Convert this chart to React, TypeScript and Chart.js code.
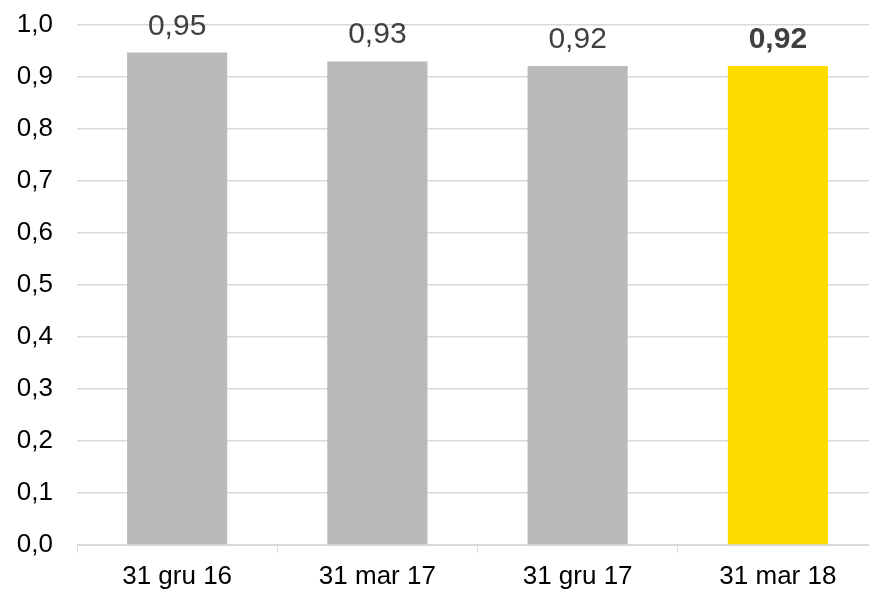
import React, { useEffect, useRef } from "react";
import { Chart, registerables } from "chart.js";

Chart.register(...registerables);

const categories = ["31 gru 16", "31 mar 17", "31 gru 17", "31 mar 18"];
const values = [0.947, 0.93, 0.921, 0.921];
const barColors = ["#BABABA", "#BABABA", "#BABABA", "#FFDC00"];
const boldLabel = [false, false, false, true];
const yTicks = [0, 0.1, 0.2, 0.3, 0.4, 0.5, 0.6, 0.7, 0.8, 0.9, 1.0];

const FONT = "'Liberation Sans', Arial, sans-serif";

const fmt = (v: number, d: number) => v.toFixed(d).replace(".", ",");

const labelPlugin = {
  id: "barLabels",
  afterDatasetsDraw(chart: any) {
    const ctx = chart.ctx;
    const meta = chart.getDatasetMeta(0);
    ctx.save();
    ctx.textAlign = "center";
    ctx.textBaseline = "alphabetic";
    meta.data.forEach((bar: any, i: number) => {
      ctx.font = `${boldLabel[i] ? "bold " : ""}30px ${FONT}`;
      ctx.fillStyle = "#404040";
      ctx.fillText(fmt(values[i], 2), bar.x, bar.y - 18);
    });
    ctx.restore();
  },
};

export default function App() {
  const ref = useRef<HTMLCanvasElement>(null);
  useEffect(() => {
    document.body.style.margin = "0";
    document.body.style.overflow = "hidden";
    const chart = new Chart(ref.current!, {
      type: "bar",
      data: {
        labels: categories,
        datasets: [
          {
            data: values,
            backgroundColor: barColors,
            barPercentage: 0.5,
            categoryPercentage: 1,
          },
        ],
      },
      options: {
        responsive: false,
        animation: false,
        layout: { padding: { top: 25, right: 0, left: 0, bottom: 0 } },
        plugins: {
          legend: { display: false },
          tooltip: { enabled: false },
        },
        scales: {
          x: {
            grid: {
              offset: true,
              drawOnChartArea: false,
              drawTicks: true,
              tickLength: 8,
              color: "#D9D9D9",
            },
            border: { display: true, color: "#D9D9D9" },
            ticks: {
              color: "#000000",
              font: { family: FONT, size: 26 },
              padding: 8,
              maxRotation: 0,
            },
            afterFit: (axis: any) => {
              axis.height = 46;
              axis.paddingLeft = 0;
              axis.paddingRight = 0;
            },
          },
          y: {
            min: 0,
            max: 1,
            afterBuildTicks: (axis: any) => {
              axis.ticks = yTicks.map((v) => ({ value: v }));
            },
            grid: { color: "#D9D9D9", drawTicks: false, lineWidth: 1.5 },
            border: { display: false },
            ticks: {
              color: "#000000",
              font: { family: FONT, size: 26 },
              padding: 24,
              callback: (v: any) => fmt(Number(v), 1),
            },
            afterFit: (axis: any) => {
              axis.width = 77;
              axis.paddingTop = 0;
              axis.paddingBottom = 0;
            },
          },
        },
      },
      plugins: [labelPlugin],
    });
    return () => chart.destroy();
  }, []);
  return (
    <div style={{ width: 869, height: 591, overflow: "hidden" }}>
      <canvas ref={ref} width={878} height={591} style={{ display: "block" }} />
    </div>
  );
}
